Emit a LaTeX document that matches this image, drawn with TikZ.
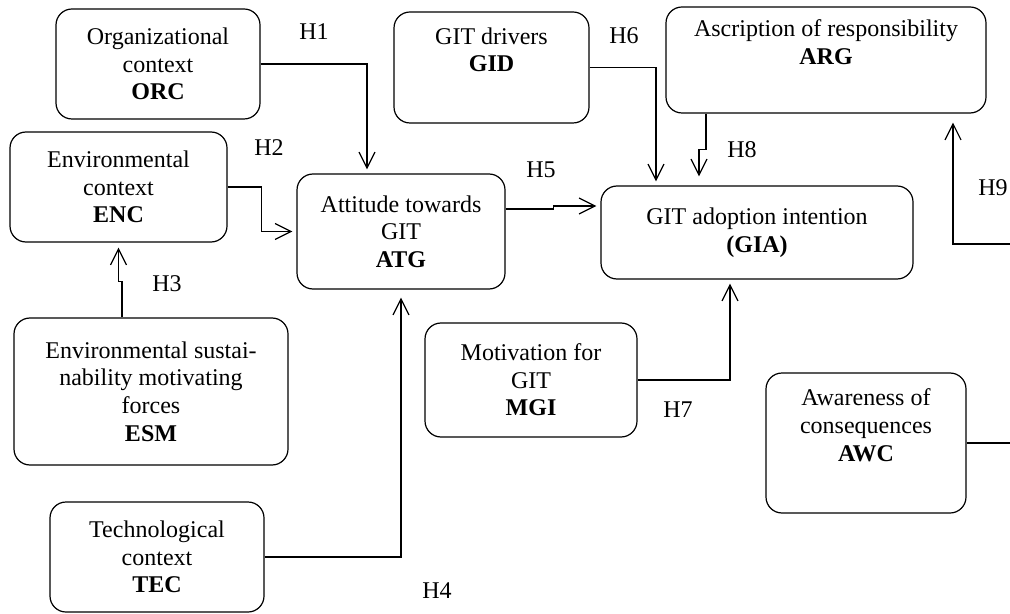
\documentclass[tikz,border=0pt]{standalone}
\usepackage{fontspec}
\setmainfont{Liberation Serif}
\usetikzlibrary{arrows.meta}

\tikzset{
	box/.style={draw, rounded corners=8pt, align=center, inner sep=0pt, line width=0.6pt, font=\fontsize{12}{13.8}\selectfont},
	arr/.style={-{Straight Barb[length=8pt,width=8pt]}, line width=0.6pt, shorten >=2pt},
	hyp/.style={inner sep=0pt, font=\fontsize{12}{13.8}\selectfont}
}

\begin{document}
\begin{tikzpicture}[x=0.5pt, y=-0.5pt]
			\useasboundingbox (0,0) rectangle (1010,614);
			\clip (0,0) rectangle (1010,614);
			\node[box, minimum width=102pt, minimum height=55pt] (orc) at (158,64) {Organizational\\context\\\textbf{ORC}};
			\node[box, minimum width=97.5pt, minimum height=55.5pt] (gid) at (491.5,67.5) {GIT drivers\\\textbf{GID}\\\strut};
			\node[box, minimum width=160pt, minimum height=53pt] (arg) at (826,60) {Ascription of responsibility\\\textbf{ARG}\\\strut};
			\node[box, minimum width=108.5pt, minimum height=55pt] (enc) at (118.5,187) {Environmental\\context\\\textbf{ENC}};
			\node[box, minimum width=104pt, minimum height=57.5pt] (atg) at (401,231.5) {Attitude towards\\GIT\\\textbf{ATG}};
			\node[box, minimum width=156pt, minimum height=46.5pt] (gia) at (757,232.5) {GIT adoption intention\\\textbf{(GIA)}};
			\node[box, minimum width=137pt, minimum height=73.5pt] (esm) at (151,391.5) {Environmental sustai-\\nability motivating\\forces\\\textbf{ESM}};
			\node[box, minimum width=106pt, minimum height=57pt] (mgi) at (531,380) {Motivation for\\GIT\\\textbf{MGI}};
			\node[box, minimum width=100pt, minimum height=70pt] (awc) at (866,443) {Awareness of\\consequences\\\textbf{AWC}\\\strut};
			\node[box, minimum width=107pt, minimum height=55pt] (tec) at (157,557) {Technological\\context\\\textbf{TEC}};
			\draw[arr] (orc.east) -| ([xshift=-17pt]atg.north);
			\draw[arr] (enc.east) -- ++(34,0) |- (atg.west);
			\draw[arr, shorten >=2.5pt] ([xshift=-14.5pt]esm.north) -- ++(0,-36) -| (enc.south);
			\draw[arr, shorten >=4pt] (tec.east) -| (atg.south);
			\draw[arr] ([yshift=11.25pt]atg.east) -- ++(48,0) |- ([yshift=13.25pt]gia.west);
			\draw[arr] (gid.east) -| ([xshift=-50.5pt]gia.north);
			\draw[arr, shorten >=4.5pt] ([xshift=-60pt]arg.south) -- ++(0,36) -| ([xshift=-29pt]gia.north);
			\draw[arr] (mgi.east) -| ([xshift=-13.5pt]gia.south);
			\draw[arr, shorten >=4.5pt] (awc.east) -- ++(74,0) -- ++(0,-199) -| ([xshift=63.5pt]arg.south);
			\node[hyp] (h1) at (314,32) {H1};
			\node[hyp] (h2) at (269,148) {H2};
			\node[hyp] (h3) at (167,284) {H3};
			\node[hyp] (h4) at (437,591) {H4};
			\node[hyp] (h5) at (541,170) {H5};
			\node[hyp] (h6) at (624,36) {H6};
			\node[hyp] (h7) at (678,410) {H7};
			\node[hyp] (h8) at (742,150) {H8};
			\node[hyp] (h9) at (993,188) {H9};
		\end{tikzpicture}
\end{document}
